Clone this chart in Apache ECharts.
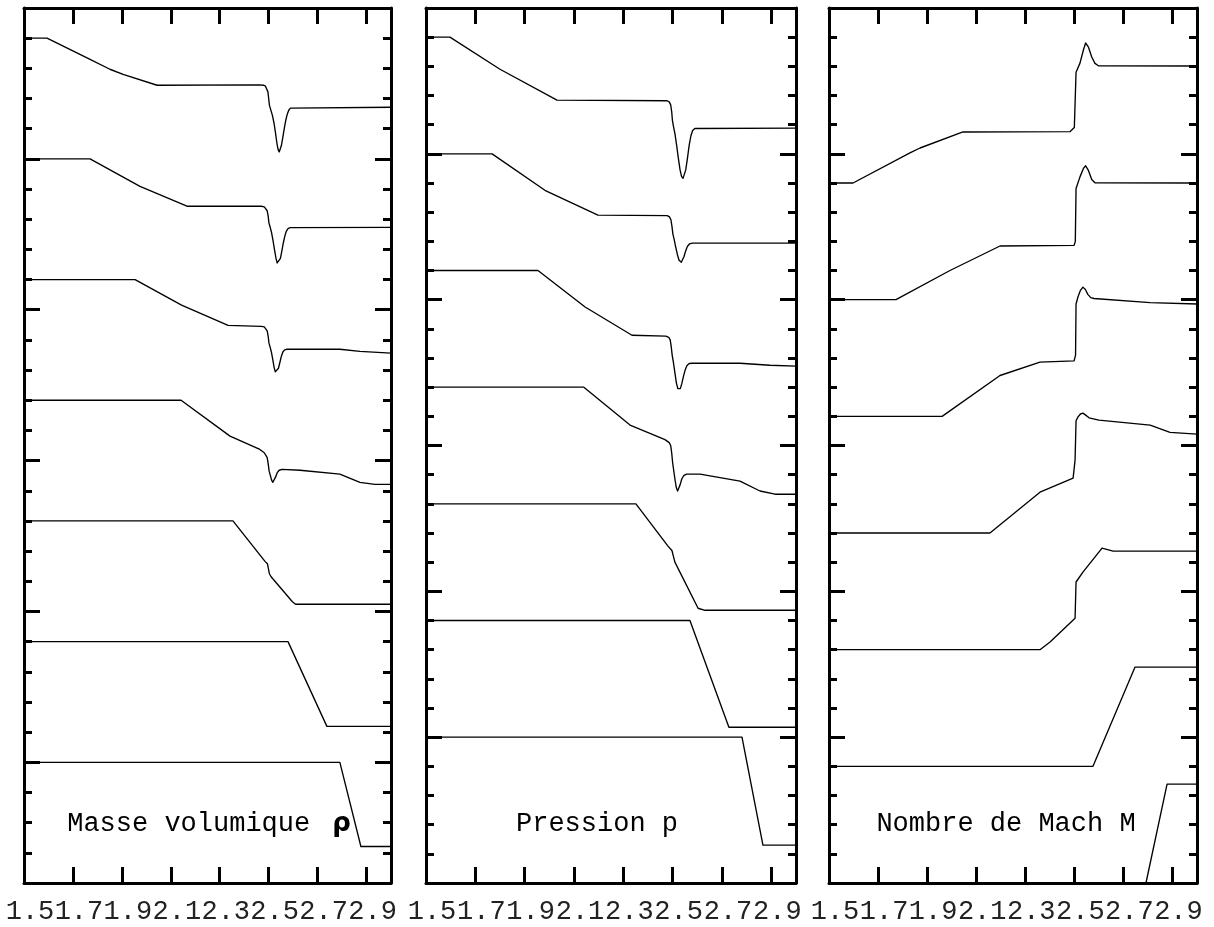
<!DOCTYPE html>
<html>
<head>
<meta charset="utf-8">
<script src="https://cdn.jsdelivr.net/npm/echarts@6/dist/echarts.min.js"></script>
<style>
  html, body { margin: 0; padding: 0; background: #fff; }
  #chart { width: 1214px; height: 927px; }
</style>
</head>
<body>
<div id="chart"></div>
<script>
// Abscissa along the duct
const X_MIN = 1.5;
const X_MAX = 3.0;
const xTickLabels = [1.5, 1.7, 1.9, 2.1, 2.3, 2.5, 2.7, 2.9];

// Panel captions (the density symbol is set in a separate rich-text run)
const panelTitles = ['{a|Masse volumique}{sym|\u03c1}', '{a|Pression p}', '{a|Nombre de Mach M}'];

// Vertical range of each panel and the long ticks
const yRanges = [[-0.4, 2.5], [-0.5, 2.5], [0, 3.0]];
const yMajorTicks = [0, 0.5, 1, 1.5, 2, 2.5];

// Each successive profile (later time) is shifted up by this amount
const CURVE_STEP = 0.4;

// Density profiles, earliest first: [x, value relative to the left state]
const rho0 = [[1.5, 0], [2.791, 0], [2.877, -0.279], [3.0, -0.279]];
const rho1 = [[1.5, 0], [2.579, 0], [2.738, -0.281], [3.0, -0.281]];
const rho2 = [[1.5, 0], [2.354, 0], [2.485, -0.134], [2.495, -0.142], [2.503, -0.175], [2.51, -0.185],
              [2.597, -0.268], [2.61, -0.276], [3.0, -0.276]];
const rho3 = [[1.5, 0], [2.142, 0], [2.342, -0.119], [2.464, -0.163], [2.482, -0.174], [2.49, -0.18],
              [2.494, -0.19], [2.498, -0.21], [2.502, -0.235], [2.507, -0.25], [2.512, -0.265],
              [2.517, -0.272], [2.522, -0.268], [2.528, -0.255], [2.535, -0.24], [2.543, -0.232],
              [2.555, -0.229], [2.628, -0.232], [2.791, -0.245], [2.873, -0.272], [2.934, -0.279],
              [3.0, -0.279]];
const rho4 = [[1.5, 0], [1.954, 0], [2.144, -0.085], [2.334, -0.152], [2.47, -0.155], [2.482, -0.157],
              [2.489, -0.161], [2.494, -0.17], [2.498, -0.188], [2.501, -0.21], [2.506, -0.224],
              [2.511, -0.24], [2.517, -0.266], [2.522, -0.29], [2.527, -0.306], [2.531, -0.311],
              [2.535, -0.307], [2.54, -0.294], [2.546, -0.274], [2.552, -0.254], [2.558, -0.24],
              [2.565, -0.233], [2.575, -0.231], [2.791, -0.231], [2.873, -0.238], [3.0, -0.244]];
const rho5 = [[1.5, 0], [1.77, 0], [1.974, -0.091], [2.166, -0.157], [2.47, -0.157], [2.482, -0.159],
              [2.489, -0.163], [2.494, -0.172], [2.498, -0.19], [2.501, -0.212], [2.506, -0.226],
              [2.512, -0.245], [2.518, -0.272], [2.524, -0.302], [2.53, -0.33], [2.535, -0.345],
              [2.539, -0.349], [2.543, -0.345], [2.548, -0.33], [2.554, -0.305], [2.56, -0.278],
              [2.566, -0.256], [2.572, -0.24], [2.579, -0.231], [2.588, -0.228], [3.0, -0.227]];
const rho6 = [[1.5, 0], [1.594, 0], [1.77, -0.07], [1.851, -0.103], [1.905, -0.12], [2.044, -0.156],
              [2.464, -0.155], [2.478, -0.156], [2.487, -0.159], [2.493, -0.165], [2.497, -0.178],
              [2.5, -0.2], [2.503, -0.222], [2.508, -0.236], [2.515, -0.255], [2.522, -0.282],
              [2.528, -0.315], [2.534, -0.35], [2.539, -0.37], [2.543, -0.377], [2.547, -0.372],
              [2.552, -0.356], [2.558, -0.328], [2.564, -0.298], [2.57, -0.272], [2.576, -0.252],
              [2.582, -0.239], [2.589, -0.232], [2.597, -0.229], [3.0, -0.229]];

// Pressure profiles
const p0 = [[1.5, 0], [2.781, 0], [2.866, -0.37], [3.0, -0.37]];
const p1 = [[1.5, 0], [2.57, 0], [2.728, -0.366], [3.0, -0.366]];
const p2 = [[1.5, 0], [2.351, 0], [2.481, -0.145], [2.497, -0.16], [2.509, -0.2], [2.603, -0.358],
            [2.631, -0.365], [3.0, -0.365]];
const p3 = [[1.5, 0], [2.14, 0], [2.327, -0.13], [2.469, -0.18], [2.486, -0.19], [2.492, -0.2],
            [2.496, -0.225], [2.5, -0.26], [2.505, -0.29], [2.51, -0.32], [2.515, -0.345],
            [2.52, -0.356], [2.525, -0.352], [2.53, -0.335], [2.537, -0.315], [2.545, -0.303],
            [2.556, -0.298], [2.611, -0.298], [2.773, -0.322], [2.854, -0.356], [2.915, -0.367],
            [3.0, -0.367]];
const p4 = [[1.5, 0], [1.954, 0], [2.145, -0.125], [2.335, -0.222], [2.472, -0.225], [2.484, -0.229],
            [2.49, -0.238], [2.494, -0.26], [2.498, -0.29], [2.503, -0.315], [2.509, -0.35],
            [2.515, -0.385], [2.521, -0.405], [2.526, -0.41], [2.531, -0.405], [2.537, -0.388],
            [2.544, -0.362], [2.551, -0.34], [2.558, -0.326], [2.567, -0.319], [2.58, -0.318],
            [2.773, -0.318], [2.894, -0.325], [3.0, -0.328]];
const p5 = [[1.5, 0], [1.768, 0], [1.982, -0.125], [2.197, -0.21], [2.478, -0.212], [2.487, -0.216],
            [2.493, -0.226], [2.497, -0.248], [2.501, -0.275], [2.506, -0.293], [2.512, -0.318],
            [2.519, -0.345], [2.526, -0.365], [2.531, -0.371], [2.535, -0.372], [2.54, -0.367],
            [2.546, -0.352], [2.553, -0.332], [2.56, -0.317], [2.568, -0.309], [2.58, -0.306],
            [3.0, -0.306]];
const p6 = [[1.5, 0], [1.597, 0], [1.8, -0.11], [2.031, -0.216], [2.477, -0.218], [2.486, -0.222],
            [2.492, -0.232], [2.496, -0.255], [2.499, -0.285], [2.503, -0.305], [2.509, -0.33],
            [2.516, -0.37], [2.523, -0.415], [2.53, -0.455], [2.536, -0.477], [2.542, -0.484],
            [2.547, -0.478], [2.553, -0.455], [2.56, -0.415], [2.567, -0.37], [2.574, -0.338],
            [2.581, -0.32], [2.59, -0.313], [3.0, -0.312]];

// Mach number profiles
const m0 = [[1.5, 0], [2.792, 0], [2.878, 0.339], [3.0, 0.339]];
const m1 = [[1.5, 0], [2.576, 0], [2.747, 0.34], [3.0, 0.34]];
const m2 = [[1.5, 0], [2.36, 0], [2.401, 0.026], [2.503, 0.108], [2.507, 0.232], [2.535, 0.266],
            [2.613, 0.348], [2.658, 0.338], [3.0, 0.338]];
const m3 = [[1.5, 0], [2.156, 0], [2.36, 0.14], [2.495, 0.188], [2.503, 0.25], [2.507, 0.385],
            [2.515, 0.398], [2.525, 0.408], [2.535, 0.411], [2.545, 0.405], [2.56, 0.395],
            [2.6, 0.387], [2.809, 0.37], [2.89, 0.345], [3.0, 0.339]];
const m4 = [[1.5, 0], [1.961, 0], [2.197, 0.14], [2.36, 0.186], [2.499, 0.19], [2.505, 0.21],
            [2.507, 0.385], [2.515, 0.41], [2.525, 0.432], [2.535, 0.443], [2.545, 0.435],
            [2.555, 0.418], [2.567, 0.407], [2.58, 0.404], [2.809, 0.39], [3.0, 0.385]];
const m5 = [[1.5, 0], [1.773, 0], [1.993, 0.1], [2.197, 0.184], [2.499, 0.186], [2.504, 0.2],
            [2.507, 0.381], [2.523, 0.421], [2.537, 0.45], [2.546, 0.459], [2.557, 0.444],
            [2.571, 0.412], [2.584, 0.401], [3.0, 0.4]];
const m6 = [[1.5, 0], [1.598, 0], [1.83, 0.103], [1.871, 0.12], [2.046, 0.175], [2.482, 0.176],
            [2.5, 0.19], [2.507, 0.38], [2.523, 0.411], [2.537, 0.456], [2.546, 0.48],
            [2.557, 0.467], [2.571, 0.432], [2.584, 0.41], [2.598, 0.402], [3.0, 0.401]];

const panelCurves = [
  [rho0, rho1, rho2, rho3, rho4, rho5, rho6],
  [p0, p1, p2, p3, p4, p5, p6],
  [m0, m1, m2, m3, m4, m5, m6]
];

// Frame geometry of the three panels (pixels)
const panelBoxes = [
  { left: 24, width: 367 },
  { left: 426, width: 370 },
  { left: 829, width: 368 }
];
const PANEL_TOP = 8;
const PANEL_HEIGHT = 875;
const titleCenters = [209, 597, 1006];

const FONT = '"Liberation Mono", "DejaVu Sans Mono", monospace';
const FRAME = { color: '#000', width: 3 };

const grids = [], xAxes = [], yAxes = [], series = [], graphics = [];

panelBoxes.forEach((box, i) => {
  grids.push({ left: box.left, top: PANEL_TOP, width: box.width, height: PANEL_HEIGHT, containLabel: false });

  const [yMin, yMax] = yRanges[i];

  // bottom axis with labels
  xAxes.push({
    type: 'value', gridIndex: i, position: 'bottom', min: X_MIN, max: X_MAX,
    axisLine: { show: true, onZero: false, lineStyle: FRAME },
    axisTick: { show: true, inside: true, length: 16, lineStyle: FRAME,
                customValues: xTickLabels.slice(1) },
    axisLabel: { show: true, customValues: xTickLabels, margin: 15,
                 formatter: v => v.toFixed(1), fontFamily: FONT, fontSize: 27, color: '#222',
                 padding: [0, 0, 0, 12] },
    splitLine: { show: false }
  });
  // top edge of the frame
  xAxes.push({
    type: 'value', gridIndex: i, position: 'top', min: X_MIN, max: X_MAX,
    axisLine: { show: true, onZero: false, lineStyle: FRAME },
    axisTick: { show: true, inside: true, length: 16, lineStyle: FRAME,
                customValues: xTickLabels.slice(1) },
    axisLabel: { show: false },
    splitLine: { show: false }
  });

  ['left', 'right'].forEach(side => {
    // short ticks every 0.1, carrying the frame line
    yAxes.push({
      type: 'value', gridIndex: i, position: side, min: yMin, max: yMax, interval: 0.1,
      axisLine: { show: true, onZero: false, lineStyle: FRAME },
      axisTick: { show: true, inside: true, length: 8, lineStyle: FRAME },
      axisLabel: { show: false },
      splitLine: { show: false }
    });
    // long ticks every 0.5
    yAxes.push({
      type: 'value', gridIndex: i, position: side, min: yMin, max: yMax,
      axisLine: { show: false },
      axisTick: { show: true, inside: true, length: 16, lineStyle: FRAME,
                  customValues: yMajorTicks.filter(v => v > yMin && v < yMax) },
      axisLabel: { show: false },
      splitLine: { show: false }
    });
  });

  panelCurves[i].forEach((curve, k) => {
    series.push({
      type: 'line', xAxisIndex: 2 * i, yAxisIndex: 4 * i,
      data: curve.map(([x, v]) => [x, v + k * CURVE_STEP]),
      showSymbol: false, symbol: 'none', clip: true, silent: true,
      lineStyle: { color: '#000', width: 1.35, join: 'round' },
      z: 3
    });
  });

  graphics.push({
    type: 'text', x: titleCenters[i], y: 824, silent: true,
    style: {
      text: panelTitles[i], align: 'center', verticalAlign: 'middle',
      rich: {
        a: { fontFamily: FONT, fontSize: 27, color: '#222' },
        sym: { fontFamily: '"DejaVu Sans", sans-serif', fontWeight: 'bold', fontSize: 26,
               color: '#111', padding: [0, 0, 0, 22] }
      }
    },
    z: 10
  });
});

const chart = echarts.init(document.getElementById('chart'), null, { renderer: 'canvas' });
chart.setOption({
  backgroundColor: '#fff',
  animation: false,
  grid: grids,
  xAxis: xAxes,
  yAxis: yAxes,
  series: series,
  graphic: graphics
});
</script>
</body>
</html>
